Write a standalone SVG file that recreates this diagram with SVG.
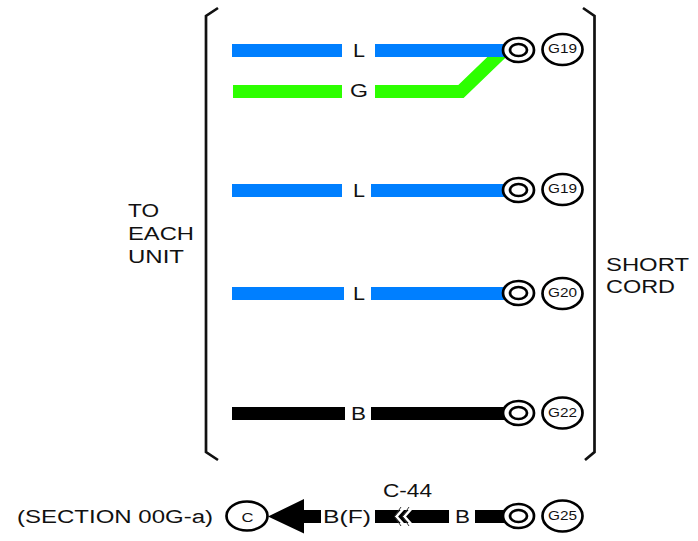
<svg xmlns="http://www.w3.org/2000/svg" width="698" height="541" viewBox="0 0 698 541">
<style>
text{font-family:"Liberation Sans",Arial,sans-serif;fill:#111}
.t{font-size:18px}
.s{font-size:13px}
.o{fill:#fff;stroke:#000;stroke-width:2.700}
.n{fill:#fff;stroke:#000;stroke-width:2.700}
.br{fill:none;stroke:#111;stroke-width:2.700}
.bl{fill:#007fff}.gr{fill:#2dff00}.bk{fill:#000}
</style>
<rect width="698" height="541" fill="#fff"/>
<g id="connectors">
<path d="M375 91.500H461L503 51" fill="none" stroke="#2dff00" stroke-width="13"/>
<rect class="gr" x="233" y="85" width="109" height="13"/>
<rect class="bl" x="232" y="44" width="110" height="13"/><rect class="bl" x="375" y="44" width="130" height="13"/>
<rect class="bl" x="232" y="184" width="110" height="13"/><rect class="bl" x="371" y="184" width="134" height="13"/>
<rect class="bl" x="232" y="287" width="112" height="13"/><rect class="bl" x="371" y="287" width="134" height="13"/>
<rect class="bk" x="232" y="407" width="113" height="13"/><rect class="bk" x="371" y="407" width="134" height="13"/>
<rect class="bk" x="475" y="510" width="30" height="13"/>
<rect class="bk" x="375" y="510" width="74" height="13"/>
<path class="bk" d="M321 510H304V499L268 516.500L304 533.500V523H321Z"/>
<path d="M405 507L396.500 516.500L405 526M413 507L404.500 516.500L413 526" fill="none" stroke="#fff" stroke-width="2.500"/>
<path d="M401 507L394.500 516.500L401 526M409 507L402.500 516.500L409 526" fill="none" stroke="#333" stroke-width="1"/>
</g>
<g id="bracket-left"><path class="br" d="M218 8L206 16V452L218 460"/></g>
<g id="bracket-right"><path class="br" d="M583 8L594.500 16V452L585 460"/></g>
<g id="label-to-each-unit"><text class="t" x="128" y="217" textLength="31" lengthAdjust="spacingAndGlyphs">TO</text><text class="t" x="128" y="240" textLength="66" lengthAdjust="spacingAndGlyphs">EACH</text><text class="t" x="128" y="263" textLength="56" lengthAdjust="spacingAndGlyphs">UNIT</text></g>
<g id="label-short-cord"><text class="t" x="606" y="271" textLength="83" lengthAdjust="spacingAndGlyphs">SHORT</text><text class="t" x="606" y="293" textLength="69" lengthAdjust="spacingAndGlyphs">CORD</text></g>
<g id="wire-labels">
<text class="t" x="353" y="56.500" textLength="12" lengthAdjust="spacingAndGlyphs">L</text>
<text class="t" x="350" y="97" textLength="18" lengthAdjust="spacingAndGlyphs">G</text>
<text class="t" x="353" y="196.500" textLength="12" lengthAdjust="spacingAndGlyphs">L</text>
<text class="t" x="353" y="299.500" textLength="12" lengthAdjust="spacingAndGlyphs">L</text>
<text class="t" x="351" y="419.500" textLength="15" lengthAdjust="spacingAndGlyphs">B</text>
<text class="t" x="455" y="522.500" textLength="15" lengthAdjust="spacingAndGlyphs">B</text>
<text class="t" x="383" y="497" textLength="49" lengthAdjust="spacingAndGlyphs">C-44</text>
<text class="t" x="323" y="522.500" textLength="48" lengthAdjust="spacingAndGlyphs">B(F)</text>
</g>
<g id="connector-j1"><ellipse class="o" cx="518.500" cy="50" rx="15.500" ry="12"/><ellipse class="o" cx="518.500" cy="50" rx="8.500" ry="6"/></g>
<g id="connector-j2"><ellipse class="o" cx="518.500" cy="190" rx="15.500" ry="12"/><ellipse class="o" cx="518.500" cy="190" rx="8.500" ry="6"/></g>
<g id="connector-j3"><ellipse class="o" cx="518.500" cy="293" rx="15.500" ry="12"/><ellipse class="o" cx="518.500" cy="293" rx="8.500" ry="6"/></g>
<g id="connector-j4"><ellipse class="o" cx="518.500" cy="413" rx="15.500" ry="12"/><ellipse class="o" cx="518.500" cy="413" rx="8.500" ry="6"/></g>
<g id="connector-j5"><ellipse class="o" cx="518.500" cy="516" rx="15.500" ry="12"/><ellipse class="o" cx="518.500" cy="516" rx="8.500" ry="6"/></g>
<g id="node-g19a"><ellipse class="n" cx="562.500" cy="49.500" rx="20" ry="15.500"/><text class="s" x="548" y="53" textLength="29" lengthAdjust="spacingAndGlyphs">G19</text></g>
<g id="node-g19b"><ellipse class="n" cx="562.500" cy="189.500" rx="20" ry="15.500"/><text class="s" x="548" y="193" textLength="29" lengthAdjust="spacingAndGlyphs">G19</text></g>
<g id="node-g20"><ellipse class="n" cx="562.500" cy="293.500" rx="20" ry="15.500"/><text class="s" x="548" y="297" textLength="29" lengthAdjust="spacingAndGlyphs">G20</text></g>
<g id="node-g22"><ellipse class="n" cx="562.500" cy="413" rx="20" ry="15.500"/><text class="s" x="548" y="417" textLength="29" lengthAdjust="spacingAndGlyphs">G22</text></g>
<g id="node-g25"><ellipse class="n" cx="562.500" cy="516" rx="20" ry="15.500"/><text class="s" x="548" y="520" textLength="29" lengthAdjust="spacingAndGlyphs">G25</text></g>
<g id="node-c"><ellipse class="n" cx="247" cy="516" rx="20.500" ry="14.500"/><text x="241.500" y="521.500" font-size="12" textLength="12" lengthAdjust="spacingAndGlyphs">C</text></g>
<g id="label-section"><text class="t" x="17" y="522.500" textLength="196" lengthAdjust="spacingAndGlyphs">(SECTION 00G-a)</text></g>
</svg>
